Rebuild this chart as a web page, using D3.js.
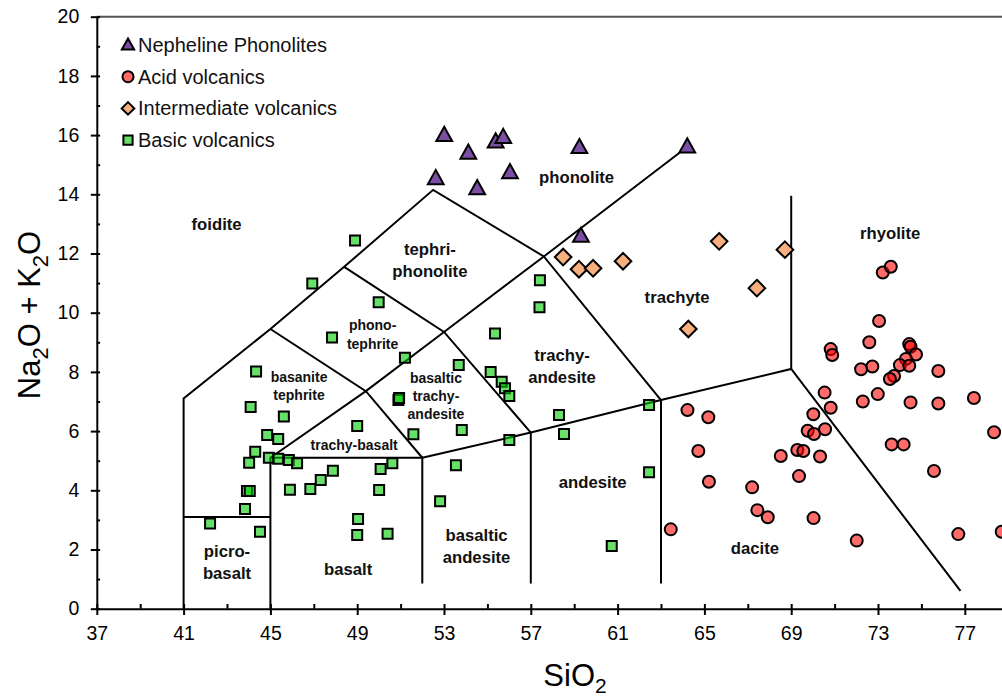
<!DOCTYPE html>
<html>
<head>
    <script src="https://d3js.org/d3.v7.min.js"></script>
    <style>
        body { margin: 0; background: #fff; }
        svg { display: block; font-family: "Liberation Sans", Arial, sans-serif; }
        .field { fill: none; stroke: #000; stroke-width: 2px; }
        .axis path, .axis line { stroke: #000; stroke-width: 2px; }
        .axis text { font-size: 19.5px; fill: #000; font-family: "Liberation Sans", Arial, sans-serif; }
        .label { font-weight: bold; text-anchor: middle; fill: #111; }
        .legend text { font-size: 20px; fill: #111; }
        .mark { stroke: #000; stroke-width: 2px; }
    </style>
</head>
<body>
    <svg width="1002" height="697"></svg>
    <script>
        // SiO2, Na2O+K2O
        var nephPhonolites = [
            [53.01, 16.0], [54.12, 15.4], [55.38, 15.78], [55.73, 15.93], [59.24, 15.59],
            [64.21, 15.61], [52.62, 14.54], [54.53, 14.2], [56.04, 14.74], [59.31, 12.59]
        ];
        var acidVolcanics = [
            [63.45, 2.68], [64.22, 6.71], [65.18, 6.47], [64.72, 5.33], [65.21, 4.29],
            [67.2, 4.1], [67.44, 3.33], [67.92, 3.09], [68.52, 5.16], [69.28, 5.36],
            [69.56, 5.33], [70.33, 5.14], [69.36, 4.48], [70.03, 3.06], [69.76, 6.01],
            [70.05, 5.9], [70.56, 6.06], [70.02, 6.57], [70.82, 6.79], [70.54, 7.3],
            [72.02, 2.3], [76.7, 2.52], [78.7, 2.6], [78.35, 5.96], [75.58, 4.65],
            [73.63, 5.55], [74.18, 5.55], [77.42, 7.12], [75.78, 6.93], [74.5, 6.97],
            [72.3, 7.0], [72.99, 7.25], [73.22, 11.36], [73.59, 11.55], [73.05, 9.72],
            [72.6, 9.0], [70.82, 8.77], [70.89, 8.57], [72.22, 8.09], [72.74, 8.18],
            [74.44, 8.94], [74.5, 8.85], [74.75, 8.59], [74.29, 8.44], [74.01, 8.23],
            [74.44, 8.21], [73.74, 7.86], [73.55, 7.76], [75.78, 8.03]
        ];
        var intermediateVolcanics = [
            [58.49, 11.88], [59.22, 11.47], [59.87, 11.5], [61.25, 11.74],
            [65.68, 12.41], [67.42, 10.83], [68.71, 12.13], [64.26, 9.45]
        ];
        var basicVolcanics = [
            [46.93, 10.99], [49.99, 10.35], [47.84, 9.16], [51.2, 8.48], [44.34, 8.01],
            [53.68, 8.23], [55.35, 9.3], [55.15, 8.0], [55.66, 7.67], [55.81, 7.45],
            [56.01, 7.19], [50.9, 7.05], [50.93, 7.12], [44.09, 6.81], [45.62, 6.49],
            [49.0, 6.17], [53.82, 6.04], [51.59, 5.89], [44.85, 5.87], [45.36, 5.73],
            [44.3, 5.3], [44.02, 4.93], [44.93, 5.1], [45.36, 5.07], [45.85, 5.02],
            [46.23, 4.91], [53.55, 4.85], [47.88, 4.66], [50.62, 4.91], [50.08, 4.72],
            [47.32, 4.35], [46.84, 4.04], [45.9, 4.02], [50.01, 4.01], [43.92, 3.98],
            [44.05, 3.98], [52.82, 3.63], [43.83, 3.37], [42.22, 2.88], [44.52, 2.6],
            [49.04, 3.03], [49.0, 2.49], [50.4, 2.53], [48.9, 12.44], [57.42, 11.1],
            [57.4, 10.18], [56.01, 5.7], [58.3, 6.54], [58.53, 5.9], [62.45, 6.88],
            [62.45, 4.61], [60.73, 2.12]
        ];

        // TAS field boundaries
        var fieldLines = [
            [[41, 0], [41, 7.1], [45, 9.45], [48.4, 11.55], [52.5, 14.15], [57.6, 11.9], [63, 7.05]],
            [[41, 3.1], [45, 3.1]],
            [[45, 0], [45, 5.1], [52, 5.1], [52, 0.85]],
            [[45, 5.1], [49.4, 7.35], [53, 9.35], [57.6, 11.9], [64.2, 15.6]],
            [[45, 9.45], [49.4, 7.35], [52, 5.1]],
            [[48.4, 11.55], [53, 9.35], [57, 5.95]],
            [[52, 5.1], [57, 5.95], [63, 7.05], [69, 8.1], [76.8, 0.6]],
            [[57, 5.95], [57, 0.85]],
            [[63, 7.05], [63, 0.85]],
            [[69, 8.1], [69, 13.95]]
        ];

        // field names: lines, SiO2, Na2O+K2O, size
        var fieldLabels = [
            { text: ["foidite"], x: 42.52, y: 13.0, size: 16.7 },
            { text: ["tephri-", "phonolite"], x: 52.35, y: 11.77, size: 16.7 },
            { text: ["phonolite"], x: 59.11, y: 14.57, size: 16.7 },
            { text: ["phono-", "tephrite"], x: 49.71, y: 9.26, size: 14 },
            { text: ["basanite", "tephrite"], x: 46.32, y: 7.53, size: 14 },
            { text: ["basaltic", "trachy-", "andesite"], x: 52.63, y: 7.19, size: 14 },
            { text: ["trachy-basalt"], x: 48.86, y: 5.53, size: 14 },
            { text: ["trachy-", "andesite"], x: 58.44, y: 8.2, size: 16.7 },
            { text: ["trachyte"], x: 63.74, y: 10.52, size: 16.7 },
            { text: ["rhyolite"], x: 73.56, y: 12.69, size: 16.7 },
            { text: ["andesite"], x: 59.85, y: 4.29, size: 16.7 },
            { text: ["dacite"], x: 67.33, y: 2.03, size: 16.7 },
            { text: ["basaltic", "andesite"], x: 54.5, y: 2.12, size: 16.7 },
            { text: ["basalt"], x: 48.58, y: 1.34, size: 16.7 },
            { text: ["picro-", "basalt"], x: 43.0, y: 1.57, size: 16.7 }
        ];

        var xMajor = [37, 41, 45, 49, 53, 57, 61, 65, 69, 73, 77];
        var xMinor = [39, 43, 47, 51, 55, 59, 63, 67, 71, 75];
        var yMajor = [0, 2, 4, 6, 8, 10, 12, 14, 16, 18, 20];
        var yMinor = [1, 3, 5, 7, 9, 11, 13, 15, 17, 19];

        var svg = d3.select("svg"),
            plotLeft = 96.8, plotBottom = 608.7, plotTop = 16.7;

        var x = d3.scaleLinear().domain([37, 79]).range([plotLeft, plotLeft + 21.7 * 42]);
        var y = d3.scaleLinear().domain([0, 20]).range([plotBottom, plotTop]);

        var shapes = {
            triangle: function(s) { return "M0," + (-s) + "L" + (s * 0.95) + "," + (s * 0.7) + "L" + (-s * 0.95) + "," + (s * 0.7) + "Z"; },
            diamond: function(s) { return "M0," + (-s) + "L" + s + ",0L0," + s + "L" + (-s) + ",0Z"; },
            square: function(s) { return "M" + (-s) + "," + (-s) + "H" + s + "V" + s + "H" + (-s) + "Z"; },
            circle: function(s) { return "M" + s + ",0A" + s + "," + s + " 0 1,1 " + (-s) + ",0A" + s + "," + s + " 0 1,1 " + s + ",0Z"; }
        };

        var series = [
            { name: "Nepheline Phonolites", data: nephPhonolites, shape: "triangle", size: 8.3, legendSize: 6.5, fill: "#7b4ea3", opacity: 1 },
            { name: "Acid volcanics", data: acidVolcanics, shape: "circle", size: 6, legendSize: 5.5, fill: "#ff0000", opacity: 0.58 },
            { name: "Intermediate volcanics", data: intermediateVolcanics, shape: "diamond", size: 8.3, legendSize: 6.3, fill: "#f7b07e", opacity: 1 },
            { name: "Basic volcanics", data: basicVolcanics, shape: "square", size: 5, legendSize: 4.6, fill: "#00cc00", opacity: 0.6 }
        ];

        // top frame line
        svg.append("line")
            .attr("x1", plotLeft).attr("x2", 1002)
            .attr("y1", plotTop).attr("y2", plotTop)
            .style("stroke", "#555").style("stroke-width", 2);

        // axes
        var xAxis = svg.append("g").attr("class", "axis")
            .attr("transform", "translate(0," + plotBottom + ")")
            .call(d3.axisBottom(x).tickValues(xMajor).tickSize(6.3).tickSizeOuter(0));
        xAxis.selectAll(".tick line").attr("y1", -4.7);
        xAxis.selectAll(".tick text").attr("y", 31.5).attr("dy", 0);

        svg.append("g").attr("class", "axis")
            .attr("transform", "translate(0," + plotBottom + ")")
            .call(d3.axisBottom(x).tickValues(xMinor).tickSize(-4.7).tickSizeOuter(0).tickFormat(""))
            .select(".domain").remove();

        var yAxis = svg.append("g").attr("class", "axis")
            .attr("transform", "translate(" + plotLeft + ",0)")
            .call(d3.axisLeft(y).tickValues(yMajor).tickSize(6).tickSizeOuter(0));
        yAxis.selectAll(".tick line").attr("x1", 3.3);
        yAxis.selectAll(".tick text").attr("x", -17.5);

        svg.append("g").attr("class", "axis")
            .attr("transform", "translate(" + plotLeft + ",0)")
            .call(d3.axisLeft(y).tickValues(yMinor).tickSize(-3.3).tickSizeOuter(0).tickFormat(""))
            .select(".domain").remove();

        // field boundaries
        var line = d3.line().x(function(d) { return x(d[0]); }).y(function(d) { return y(d[1]); });
        svg.append("g").selectAll("path")
            .data(fieldLines)
            .enter().append("path")
            .attr("class", "field")
            .attr("d", line);

        // field names
        fieldLabels.forEach(function(l) {
            var gap = l.size * 1.3,
                y0 = y(l.y) - (l.text.length - 1) * gap / 2;
            var t = svg.append("text")
                .attr("class", "label")
                .style("font-size", l.size + "px");
            l.text.forEach(function(s, i) {
                t.append("tspan")
                    .attr("x", x(l.x))
                    .attr("y", y0 + i * gap)
                    .attr("dy", "0.35em")
                    .text(s);
            });
        });

        // data points
        series.slice().reverse().forEach(function(s) {
            svg.append("g").selectAll("path")
                .data(s.data)
                .enter().append("path")
                .attr("class", "mark")
                .attr("d", shapes[s.shape](s.size))
                .attr("transform", function(d) { return "translate(" + x(d[0]) + "," + y(d[1]) + ")"; })
                .style("fill", s.fill)
                .style("fill-opacity", s.opacity);
        });

        // legend
        var legend = svg.append("g").attr("class", "legend")
            .attr("transform", "translate(128,45)");
        var item = legend.selectAll("g")
            .data(series)
            .enter().append("g")
            .attr("transform", function(d, i) { return "translate(0," + (i * 31.7) + ")"; });
        item.append("path")
            .attr("class", "mark")
            .attr("d", function(d) { return shapes[d.shape](d.legendSize); })
            .style("fill", function(d) { return d.fill; })
            .style("fill-opacity", function(d) { return d.opacity; });
        item.append("text")
            .attr("x", 10)
            .attr("dy", "0.35em")
            .text(function(d) { return d.name; });

        // axis titles
        var xt = svg.append("text")
            .attr("x", 575).attr("y", 685.5)
            .attr("text-anchor", "middle")
            .style("font-size", "31px");
        xt.append("tspan").text("SiO");
        xt.append("tspan").attr("dy", 7).style("font-size", "21px").text("2");

        var yt = svg.append("text")
            .attr("transform", "translate(40,315) rotate(-90)")
            .attr("text-anchor", "middle")
            .style("font-size", "31px");
        yt.append("tspan").text("Na");
        yt.append("tspan").attr("dy", 8).style("font-size", "22px").text("2");
        yt.append("tspan").attr("dy", -8).text("O + K");
        yt.append("tspan").attr("dy", 8).style("font-size", "22px").text("2");
        yt.append("tspan").attr("dy", -8).text("O");
    </script>
</body>
</html>
